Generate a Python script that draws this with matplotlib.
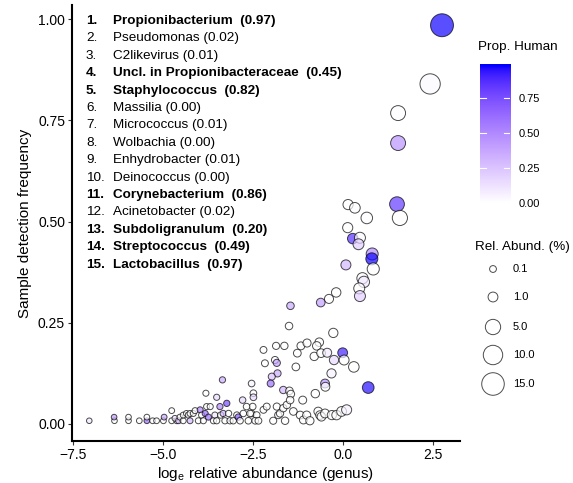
import numpy as np
import matplotlib
matplotlib.use("Agg")
from matplotlib import pyplot as plt
from matplotlib.colors import ListedColormap, Normalize

plt.rcParams['font.family'] = ['Liberation Sans', 'DejaVu Sans']
plt.rcParams['mathtext.fontset'] = 'custom'
plt.rcParams['mathtext.rm'] = 'Liberation Sans'

# ---- data ----
genus_names = ["Propionibacterium", "Pseudomonas", "C2likevirus", "Uncl. in Propionibacteraceae",
               "Staphylococcus", "Massilia", "Micrococcus", "Wolbachia", "Enhydrobacter",
               "Deinococcus", "Corynebacterium", "Acinetobacter", "Subdoligranulum",
               "Streptococcus", "Lactobacillus"]
genus_props = [0.97, 0.02, 0.01, 0.45, 0.82, 0.00, 0.01, 0.00, 0.01, 0.00,
               0.86, 0.02, 0.20, 0.49, 0.97]

log_abund = [2.75, 2.42, 1.53, 1.53, 1.50, 0.14, 0.33, 1.58, 0.66, 0.13,
             0.27, 0.47, 0.43, 0.81, 0.80,
             0.84, 0.08, 0.54, 0.58, 0.45, 0.47, -0.19, -0.39, -0.62, -1.46,
             -1.50, -0.27, -2.21, -1.86, -1.63, -1.17, -1.00, -0.66, -1.27, -0.80,
             -0.73, -0.61, -0.44, -0.01, -0.25, 0.03, 0.30, -2.17, -1.89, -1.84,
             -1.82, -1.98, -2.01, -1.31, -0.32, -0.50, -0.49, 0.70, -1.66, -1.49,
             -1.45, -0.77, -1.12, -2.49, -2.49, -2.54, -3.81, -3.51, -3.35, -2.79,
             -2.51, -2.54, -2.40, -2.44,
             -7.05, -6.35, -6.36, -5.96, -5.96, -5.66, -5.45, -5.45, -5.29, -5.18,
             -4.99, -4.97, -4.76, -4.76, -4.62, -4.67, -4.57, -4.53, -4.44, -4.44,
             -4.35, -4.30, -4.25, -4.25, -4.16, -4.11, -4.02, -3.97, -3.93, -3.88,
             -3.83, -3.79, -3.74, -3.69, -3.60, -3.56, -3.51, -3.42, -3.40, -3.33,
             -3.28, -3.23, -3.18, -3.14, -3.05, -2.95, -2.91, -2.86, -2.77, -2.68,
             -2.63, -2.58, -2.35, -2.21, -2.12, -1.94, -1.84, -1.80, -1.75, -1.66,
             -1.61, -1.56, -1.47, -1.38, -1.19, -1.10, -1.01, -0.92, -0.69, -0.64,
             -0.60, -0.50, -0.31, -0.18, -0.04, 0.10]
det_freq = [0.985, 0.840, 0.768, 0.694, 0.543, 0.542, 0.534, 0.509, 0.509, 0.485,
            0.458, 0.460, 0.444, 0.420, 0.408,
            0.383, 0.393, 0.360, 0.351, 0.335, 0.316, 0.325, 0.309, 0.300, 0.292,
            0.242, 0.225, 0.183, 0.193, 0.193, 0.193, 0.200, 0.202, 0.175, 0.167,
            0.193, 0.175, 0.176, 0.176, 0.158, 0.158, 0.141, 0.150, 0.158, 0.151,
            0.125, 0.117, 0.100, 0.141, 0.125, 0.100, 0.092, 0.090, 0.084, 0.082,
            0.074, 0.075, 0.059, 0.076, 0.066, 0.100, 0.076, 0.066, 0.109, 0.059,
            0.043, 0.026, 0.022, 0.008,
            0.008, 0.008, 0.017, 0.008, 0.017, 0.008, 0.008, 0.017, 0.008, 0.008,
            0.008, 0.017, 0.008, 0.033, 0.008, 0.014, 0.008, 0.017, 0.008, 0.022,
            0.026, 0.022, 0.008, 0.026, 0.026, 0.033, 0.008, 0.035, 0.022, 0.008,
            0.026, 0.043, 0.017, 0.043, 0.008, 0.022, 0.008, 0.043, 0.022, 0.026,
            0.008, 0.051, 0.026, 0.008, 0.008, 0.022, 0.017, 0.008, 0.026, 0.043,
            0.008, 0.026, 0.008, 0.035, 0.043, 0.008, 0.043, 0.022, 0.026, 0.039,
            0.008, 0.047, 0.059, 0.031, 0.022, 0.010, 0.022, 0.008, 0.031, 0.022,
            0.018, 0.026, 0.022, 0.022, 0.031, 0.035]
prop_human = [0.97, 0.02, 0.01, 0.45, 0.82, 0.00, 0.01, 0.00, 0.01, 0.00,
              0.86, 0.02, 0.20, 0.49, 0.97,
              0.00, 0.30, 0.00, 0.10, 0.00, 0.20, 0.00, 0.00, 0.40, 0.35,
              0.00, 0.00, 0.00, 0.00, 0.00, 0.00, 0.00, 0.00, 0.00, 0.00,
              0.00, 0.00, 0.08, 0.90, 0.15, 0.00, 0.00, 0.00, 0.00, 0.40,
              0.35, 0.25, 0.60, 0.00, 0.05, 0.45, 0.00, 0.95, 0.30, 0.00,
              0.00, 0.00, 0.00, 0.00, 0.15, 0.05, 0.00, 0.15, 0.35, 0.15,
              0.00, 0.00, 0.00, 0.00,
              0.10, 0.00, 0.40, 0.00, 0.00, 0.00, 0.60, 0.00, 0.00, 0.00,
              0.00, 0.35, 0.00, 0.00, 0.00, 0.10, 0.30, 0.00, 0.00, 0.00,
              0.00, 0.00, 0.30, 0.00, 0.00, 0.00, 0.00, 0.50, 0.00, 0.00,
              0.60, 0.00, 0.60, 0.00, 0.00, 0.10, 0.00, 0.50, 0.00, 0.30,
              0.00, 0.75, 0.00, 0.00, 0.00, 0.00, 0.70, 0.00, 0.00, 0.00,
              0.00, 0.00, 0.00, 0.00, 0.00, 0.00, 0.00, 0.05, 0.00, 0.00,
              0.00, 0.00, 0.00, 0.00, 0.00, 0.00, 0.00, 0.00, 0.00, 0.00,
              0.00, 0.00, 0.00, 0.00, 0.00, 0.05]

size_breaks = [0.1, 1.0, 5.0, 10.0, 15.0]
color_breaks = [0.00, 0.25, 0.50, 0.75]


# white -> blue gradient interpolated in Lab space (like ggplot)
def lab2rgb(lab):
    L, a, b = lab[:, 0], lab[:, 1], lab[:, 2]
    fy = (L + 16) / 116
    fx = fy + a / 500
    fz = fy - b / 200

    def finv(t):
        return np.where(t ** 3 > 0.008856, t ** 3, (t - 16 / 116) / 7.787)
    xyz = np.stack([0.95047 * finv(fx), finv(fy), 1.08883 * finv(fz)], -1)
    m = np.array([[3.2406, -1.5372, -0.4986],
                  [-0.9689, 1.8758, 0.0415],
                  [0.0557, -0.2040, 1.0570]])
    rgb = xyz @ m.T
    rgb = np.where(rgb <= 0.0031308, 12.92 * rgb, 1.055 * np.abs(rgb) ** (1 / 2.4) - 0.055)
    return np.clip(rgb, 0, 1)


t = np.linspace(0, 1, 256)[:, None]
lab = (1 - t) * np.array([100, 0, 0]) + t * np.array([32.30, 79.19, -107.86])
cmap = ListedColormap(lab2rgb(lab))
norm = Normalize(0, 0.98)

rel_abund = np.exp(np.array(log_abund))
vmax = rel_abund.max()


def diam(v):
    return 3.9 + 12.6 * np.sqrt(np.asarray(v) / vmax)


W, H = 573, 483


def fx(px):
    return px / W


def fy(py):
    return 1 - py / H


fig = plt.figure(figsize=(5.73, 4.83), dpi=100)
ax = fig.add_axes([fx(72), fy(441), fx(460) - fx(72), fy(5) - fy(441)])

ax.scatter(log_abund, det_freq, s=diam(rel_abund) ** 2, c=prop_human, cmap=cmap, norm=norm,
           alpha=0.7, edgecolors='black', linewidths=0.7, zorder=3)

ax.set_xlim(-7.53, 3.25)
ax.set_ylim(-0.042, 1.035)
ax.set_xticks([-7.5, -5.0, -2.5, 0.0, 2.5])
ax.set_yticks([0.0, 0.25, 0.5, 0.75, 1.0])
ax.set_yticklabels(["0.00", "0.25", "0.50", "0.75", "1.00"])
for s in ['top', 'right']:
    ax.spines[s].set_visible(False)
for s in ['left', 'bottom']:
    ax.spines[s].set_linewidth(1.5)
ax.tick_params(labelsize=10, length=3, width=0.8, color='#333333', labelcolor='black', pad=2)
ax.set_xlabel(r"log$_\mathregular{e}$ relative abundance (genus)", fontsize=11, labelpad=2)
ax.set_ylabel("Sample detection frequency", fontsize=11, labelpad=4)

# genus list
for i, (name, p) in enumerate(zip(genus_names, genus_props)):
    yy = fy(21 + i * 17.4)
    bold = p >= 0.1
    wt = 'bold' if bold else 'normal'
    gap = "  " if bold else " "
    fig.text(fx(86), yy, f"{i + 1}.", fontsize=9.7, fontweight=wt, va='center', ha='left')
    fig.text(fx(113), yy, f"{name}{gap}({p:.2f})", fontsize=9.7, fontweight=wt,
             va='center', ha='left')

# colour bar legend
fig.text(fx(478), fy(47), "Prop. Human", fontsize=9.7, va='center', ha='left')
cax = fig.add_axes([fx(480), fy(203), fx(510) - fx(480), fy(64) - fy(203)])
cax.imshow(np.linspace(0, 0.99, 200)[:, None], aspect='auto', origin='lower', cmap=cmap, norm=norm,
           extent=[0, 1, 0, 0.99])
cax.set_xlim(0, 1)
cax.set_ylim(0, 0.99)
for c in color_breaks[1:]:
    cax.plot([0, 0.2], [c, c], color='white', lw=0.8)
    cax.plot([0.8, 1], [c, c], color='white', lw=0.8)
cax.set_xticks([])
cax.yaxis.tick_right()
cax.set_yticks(color_breaks)
cax.set_yticklabels([f"{c:.2f}" for c in color_breaks])
cax.tick_params(length=0, labelsize=8, pad=6)
for s in cax.spines.values():
    s.set_visible(False)

# size legend
fig.text(fx(475), fy(247), "Rel. Abund. (%)", fontsize=9.7, va='center', ha='left')
lax = fig.add_axes([0, 0, 1, 1])
lax.set_xlim(0, W)
lax.set_ylim(H, 0)
lax.axis('off')
leg_y = [269, 297, 327, 355, 384]
lax.scatter([493] * len(size_breaks), leg_y, s=diam(size_breaks) ** 2, facecolors='white',
            edgecolors='black', alpha=0.7, linewidths=0.7)
for v, yy in zip(size_breaks, leg_y):
    lax.text(513, yy, f"{v:.1f}", fontsize=8, va='center', ha='left')

fig.savefig("out.png", dpi=100)
